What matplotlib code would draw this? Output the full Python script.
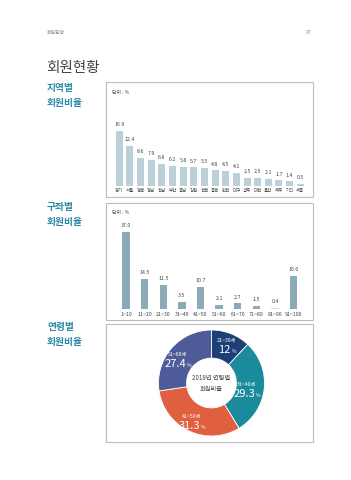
import matplotlib.pyplot as plt
from matplotlib.patches import Rectangle

plt.rcParams['font.family'] = ['Noto Sans CJK KR', 'DejaVu Sans']

# data
regions = ["경기", "서울", "경북", "경남", "전남", "부산", "충남", "강원", "전북",
           "충북", "인천", "대구", "광주", "대전", "울산", "제주", "기타", "세종"]
region_pct = [16.9, 12.4, 8.6, 7.9, 6.8, 6.2, 5.8, 5.7, 5.5,
              4.8, 4.5, 4.1, 2.5, 2.5, 2.1, 1.7, 1.4, 0.5]

slots = ["1~10", "11~20", "21~30", "31~40", "41~50",
         "51~60", "61~70", "71~80", "81~90", "91~100"]
slot_pct = [37.0, 14.5, 11.5, 3.5, 10.7, 2.1, 2.7, 1.5, 0.4, 16.0]

ages = ["21~30세", "31~40세", "41~50세", "51~60세"]
age_pct = [12, 29.3, 31.3, 27.4]
age_txt = ["12", "29.3", "31.3", "27.4"]

W, H = 351, 480
fig = plt.figure(figsize=(W / 100, H / 100), dpi=100)


def fx(px):
    return px / W


def fy(py):
    return 1 - py / H


def box(x0, y0, x1, y1):
    fig.patches.append(Rectangle((fx(x0), fy(y1)), fx(x1 - x0), (y1 - y0) / H,
                                 transform=fig.transFigure, fill=False,
                                 edgecolor='#bdbdbd', linewidth=0.8))


teal = '#2c8aa6'
# page header
fig.text(fx(47), fy(32), "회원현황", fontsize=3.5, color='#888888', va='center')
fig.text(fx(311), fy(32), "07", fontsize=3.5, color='#888888', va='center', ha='right')
fig.text(fx(46), fy(68), "회원현황", fontsize=10.5, color='#444444', va='center')

for yy, t in [(88, "지역별"), (207, "구좌별"), (327, "연령별")]:
    fig.text(fx(47), fy(yy), t, fontsize=7, color=teal, va='center', fontweight='bold')
    fig.text(fx(47), fy(yy + 15), "회원비율", fontsize=7, color=teal, va='center', fontweight='bold')

box(106, 82, 313, 197)
box(106, 203, 313, 320)
box(106, 324, 313, 442)

# chart 1
ax1 = fig.add_axes([fx(113.9), fy(186), fx(191.7), 78 / H])
x1 = range(len(regions))
ax1.bar(x1, region_pct, width=0.66, color='#bcd0da')
for i, v in enumerate(region_pct):
    ax1.text(i, v + 1.2, f"{v}", ha='center', va='bottom', fontsize=3.8, color='#444444')
ax1.set_xlim(-0.5, len(regions) - 0.5)
ax1.set_ylim(0, 24)
ax1.set_xticks(list(x1))
ax1.set_xticklabels(regions, fontsize=3.2, color='#444444')
ax1.tick_params(length=0, pad=1.5)
ax1.set_yticks([])
for s in ax1.spines.values():
    s.set_visible(False)
fig.text(fx(112), fy(92), "단위 : %", fontsize=3.5, color='#555555', va='center')

# chart 2
ax2 = fig.add_axes([fx(116.7), fy(309), fx(186.1), 90 / H])
x2 = range(len(slots))
cols = ['#cfdde4' if v < 1 else '#8cabb9' for v in slot_pct]
ax2.bar(x2, slot_pct, width=0.4, color=cols)
for i, v in enumerate(slot_pct):
    ax2.text(i, v + 1.8, f"{v}", ha='center', va='bottom', fontsize=3.8, color='#444444')
ax2.set_xlim(-0.5, len(slots) - 0.5)
ax2.set_ylim(0, 43)
ax2.set_xticks(list(x2))
ax2.set_xticklabels(slots, fontsize=3.8, color='#444444')
ax2.tick_params(length=0, pad=2)
ax2.set_yticks([])
for s in ax2.spines.values():
    s.set_visible(False)
fig.text(fx(112), fy(212), "단위 : %", fontsize=3.5, color='#555555', va='center')

# donut
r = 53
cx, cy = 211.5, 383
ax3 = fig.add_axes([fx(cx - r), fy(cy + r), fx(2 * r), 2 * r / H])
ax3.pie(age_pct, colors=['#1d3f78', '#1b8a9b', '#e05f3f', '#4f5b98'],
        startangle=90, counterclock=False, radius=1,
        wedgeprops=dict(width=0.53, edgecolor='white', linewidth=0.6))
ax3.set_xlim(-1, 1)
ax3.set_ylim(-1, 1)
ax3.set_aspect('equal')
ax3.axis('off')
ax3.text(0, 0.1, "2018년 연령별", ha='center', va='center', fontsize=4.5, color='#444444')
ax3.text(0, -0.12, "회원비율", ha='center', va='center', fontsize=4.5, color='#444444')

lab_pos = [(227, 340), (247, 384), (192, 416), (178, 354)]
for (px, py), a, t in zip(lab_pos, ages, age_txt):
    fig.text(fx(px), fy(py), a, ha='center', va='center', fontsize=3.8, color='white')
    num = fig.text(fx(px - 2.5), fy(py + 10), t, ha='center', va='center',
                   fontsize=8, color='white')
    fig.add_artist(plt.Annotation("%", xy=(1.0, 0.12), xycoords=num,
                                  xytext=(0.6, 0), textcoords='offset points',
                                  ha='left', va='bottom', fontsize=3.5, color='white'))

fig.savefig("out.png", dpi=100)
